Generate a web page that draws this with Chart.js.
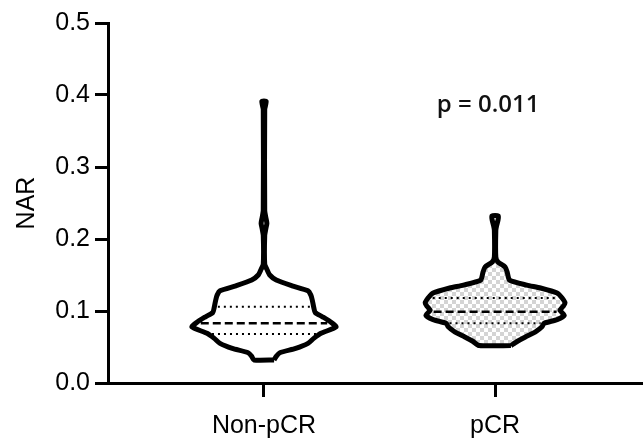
<!DOCTYPE html>
<html>
<head>
<meta charset="utf-8">
<script src="https://cdn.jsdelivr.net/npm/chart.js@4"></script>
<style>
  html, body { margin: 0; padding: 0; background: #fff; }
  canvas { display: block; }
</style>
</head>
<body>
<canvas id="chart" width="643" height="439"></canvas>
<script>
const categories = ["Non-pCR", "pCR"];
const yTicks = [0, 0.1, 0.2, 0.3, 0.4, 0.5];

// violin outlines: NAR value and relative density (1 = widest)
const nonPcrY = [0.032, 0.037, 0.042, 0.048, 0.055, 0.062, 0.069, 0.078, 0.085, 0.092, 0.098, 0.105, 0.115, 0.122, 0.128, 0.135, 0.143, 0.150, 0.158, 0.165, 0.205, 0.214, 0.222, 0.230, 0.240, 0.380, 0.391];
const nonPcrDensity = [0.14, 0.17, 0.22, 0.44, 0.61, 0.69, 0.79, 1.00, 0.92, 0.81, 0.71, 0.69, 0.67, 0.65, 0.61, 0.39, 0.17, 0.08, 0.04, 0.01, 0.01, 0.025, 0.04, 0.025, 0.01, 0.01, 0.03];
const pcrY = [0.052, 0.058, 0.064, 0.071, 0.078, 0.083, 0.088, 0.094, 0.101, 0.106, 0.111, 0.118, 0.125, 0.132, 0.136, 0.143, 0.153, 0.161, 0.168, 0.175, 0.212, 0.218, 0.226, 0.232];
const pcrDensity = [0.22, 0.31, 0.42, 0.56, 0.65, 0.68, 0.86, 0.96, 0.90, 0.94, 0.97, 0.93, 0.86, 0.63, 0.44, 0.20, 0.17, 0.14, 0.04, 0.01, 0.01, 0.02, 0.04, 0.045];

// median and quartiles
const medians = [0.083, 0.099];
const q1 = [0.068, 0.083];
const q3 = [0.106, 0.118];
const pText = "p = 0.011";

const HALF_WIDTH = 0.312; // x units at density 1

function outline(pos, ys, dens) {
    const pts = [];
    for (let i = 0; i < ys.length; i++) pts.push({x: pos + dens[i] * HALF_WIDTH, y: ys[i]});
    for (let i = ys.length - 1; i >= 0; i--) pts.push({x: pos - dens[i] * HALF_WIDTH, y: ys[i]});
    pts.push(pts[0]);
    return pts;
}

function widthAt(ys, dens, v) {
    for (let i = 0; i < ys.length - 1; i++) {
        if (v >= ys[i] && v <= ys[i + 1]) {
            const t = (v - ys[i]) / (ys[i + 1] - ys[i]);
            return (dens[i] + t * (dens[i + 1] - dens[i])) * HALF_WIDTH;
        }
    }
    return 0;
}

// light gray checkerboard for the pCR violin
const pat = document.createElement("canvas");
pat.width = 8; pat.height = 8;
const pctx = pat.getContext("2d");
pctx.fillStyle = "#ffffff"; pctx.fillRect(0, 0, 8, 8);
pctx.fillStyle = "#d4d4d4"; pctx.fillRect(0, 0, 4, 4); pctx.fillRect(4, 4, 4, 4);
const checker = pctx.createPattern(pat, "repeat");

const profiles = [[nonPcrY, nonPcrDensity], [pcrY, pcrDensity]];
const datasets = [];

profiles.forEach(([ys, dens], i) => {
    datasets.push({
        data: outline(i + 1, ys, dens),
        showLine: true,
        borderColor: "#000",
        borderWidth: 5,
        borderJoinStyle: "round",
        backgroundColor: i === 0 ? "#fff" : checker,
        fill: "shape",
        tension: 0.2,
        pointRadius: 0,
        order: 2
    });
    const lines = [[medians[i], [8, 4], 2.5], [q1[i], [2, 4], 2], [q3[i], [2, 4], 2]];
    for (const [v, dash, w] of lines) {
        const hw = widthAt(ys, dens, v) * 0.93;
        datasets.push({
            data: [{x: i + 1 - hw, y: v}, {x: i + 1 + hw, y: v}],
            showLine: true,
            borderColor: "#000",
            borderWidth: w,
            borderDash: dash,
            pointRadius: 0,
            fill: false,
            order: 1
        });
    }
});

const pLabel = {
    id: "pLabel",
    afterDatasetsDraw(chart) {
        const {ctx, scales} = chart;
        ctx.save();
        ctx.font = "600 24px 'Open Sans'";
        ctx.fillStyle = "#111";
        ctx.textAlign = "center";
        ctx.textBaseline = "middle";
        ctx.fillText(pText, scales.x.getPixelForValue(1.97), scales.y.getPixelForValue(0.386));
        ctx.restore();
    }
};

const tickFont = {family: "'Liberation Sans', Arial, sans-serif", size: 25};

new Chart(document.getElementById("chart"), {
    type: "scatter",
    data: {datasets: datasets},
    options: {
        responsive: false,
        animation: false,
        devicePixelRatio: 1,
        layout: {padding: {top: 23, right: 0, bottom: 0, left: 0}},
        plugins: {legend: {display: false}, tooltip: {enabled: false}},
        scales: {
            x: {
                type: "linear",
                min: 0.325,
                max: 2.64,
                afterBuildTicks: (s) => { s.ticks = [{value: 1}, {value: 2}]; },
                afterFit: (s) => { s.height = 56; },
                ticks: {
                    callback: (v) => categories[v - 1],
                    font: tickFont,
                    color: "#000",
                    padding: 14,
                    maxRotation: 0
                },
                grid: {drawOnChartArea: false, drawTicks: true, tickLength: 14, tickWidth: 3, tickColor: "#000"},
                border: {color: "#000", width: 3}
            },
            y: {
                min: 0,
                max: 0.5,
                afterBuildTicks: (s) => { s.ticks = yTicks.map(v => ({value: v})); },
                afterFit: (s) => { s.width = 108; },
                ticks: {
                    callback: (v) => v.toFixed(1),
                    font: tickFont,
                    color: "#000",
                    padding: 5
                },
                title: {display: true, text: "NAR", font: tickFont, color: "#000", padding: {top: 12, bottom: 0}},
                grid: {drawOnChartArea: false, drawTicks: true, tickLength: 13, tickWidth: 3, tickColor: "#000"},
                border: {color: "#000", width: 3}
            }
        }
    },
    plugins: [pLabel]
});
</script>
</body>
</html>
